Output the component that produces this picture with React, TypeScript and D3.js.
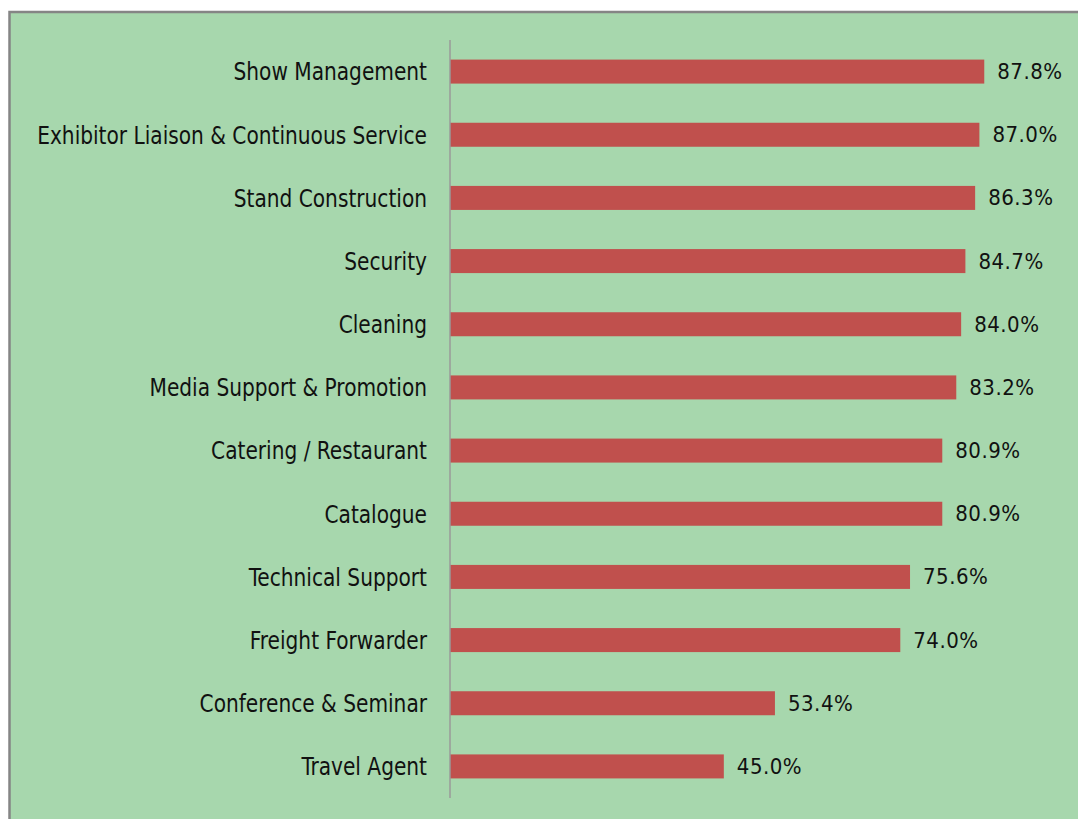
import React, { useEffect, useRef } from "react";
import * as d3 from "d3";

const categories = [
  "Show Management",
  "Exhibitor Liaison & Continuous Service",
  "Stand Construction",
  "Security",
  "Cleaning",
  "Media Support & Promotion",
  "Catering / Restaurant",
  "Catalogue",
  "Technical Support",
  "Freight Forwarder",
  "Conference & Seminar",
  "Travel Agent",
];
const values = [87.8, 87.0, 86.3, 84.7, 84.0, 83.2, 80.9, 80.9, 75.6, 74.0, 53.4, 45.0];

const W = 1078;
const H = 819;

export default function App() {
  const ref = useRef<SVGSVGElement>(null);

  useEffect(() => {
    const svg = d3.select(ref.current);
    svg.selectAll("*").remove();

    // frame
    svg.append("rect").attr("x", 0).attr("y", 0).attr("width", W).attr("height", H).attr("fill", "#ffffff");
    svg.append("rect").attr("x", 9.5).attr("y", 12).attr("width", W).attr("height", H).attr("fill", "#A7D7AD")
      .attr("stroke", "#858585").attr("stroke-width", 2.5);

    const x = d3.scaleLinear().domain([0, 100]).range([450, 450 + 608.5]);
    const y = d3.scaleBand<string>().domain(categories).range([40, 798]).paddingInner(0.62).paddingOuter(0.31);

    const data = categories.map((c, i) => ({ c, v: values[i] }));

    svg.append("g").selectAll("rect").data(data).enter().append("rect")
      .attr("x", x(0))
      .attr("y", d => y(d.c)!)
      .attr("width", d => x(d.v) - x(0))
      .attr("height", y.bandwidth())
      .attr("fill", "#C0504D");

    svg.append("line")
      .attr("x1", x(0)).attr("x2", x(0))
      .attr("y1", 40).attr("y2", 798)
      .attr("stroke", "#9A9A9A").attr("stroke-width", 1.5);

    const labels = svg.append("g");
    labels.selectAll("text").data(data).enter().append("text")
      .attr("x", 0)
      .attr("y", d => y(d.c)! + y.bandwidth() / 2)
      .attr("text-anchor", "end")
      .attr("dominant-baseline", "central")
      .attr("font-family", "'DejaVu Sans Condensed', 'DejaVu Sans'")
      .attr("font-size", 24)
      .attr("fill", "#111")
      .text(d => d.c);
    // compress horizontally to match reference widths
    let maxW = 0;
    labels.selectAll<SVGTextElement, unknown>("text").each(function () {
      maxW = Math.max(maxW, this.getComputedTextLength());
    });
    const sx = maxW > 0 ? 390 / maxW : 1;
    labels.attr("transform", `translate(427,0) scale(${sx},1)`);

    svg.append("g").selectAll("text").data(data).enter().append("text")
      .attr("x", d => x(d.v) + 13)
      .attr("y", d => y(d.c)! + y.bandwidth() / 2)
      .attr("dominant-baseline", "central")
      .attr("font-family", "'DejaVu Sans Condensed', 'DejaVu Sans'")
      .attr("font-size", 22)
      .attr("letter-spacing", 0.5)
      .attr("fill", "#111")
      .text(d => d.v.toFixed(1) + "%");
  }, []);

  return (
    <svg ref={ref} width={W} height={H} style={{ position: "absolute", left: 0, top: 0 }} />
  );
}
